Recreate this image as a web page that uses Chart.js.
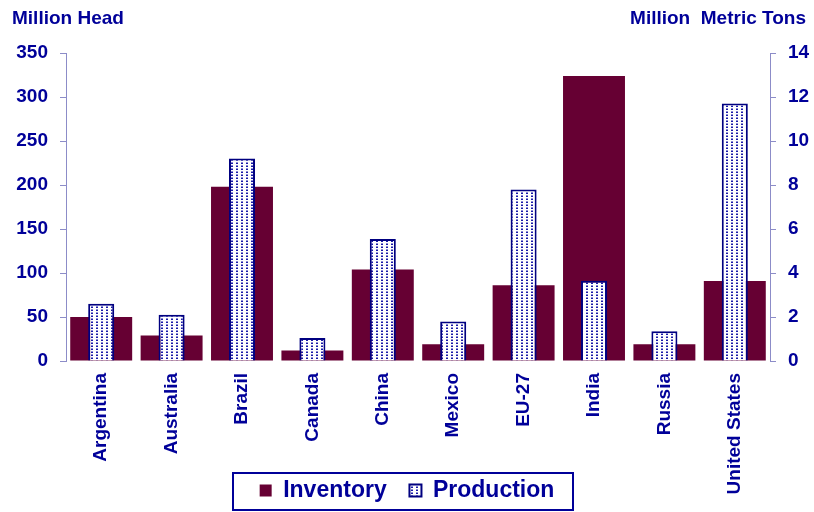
<!DOCTYPE html>
<html>
<head>
<meta charset="utf-8">
<script src="https://cdn.jsdelivr.net/npm/chart.js@4/dist/chart.umd.min.js"></script>
<style>
  html, body { margin: 0; padding: 0; background: #fff; }
  #wrap { width: 814px; height: 512px; }
</style>
</head>
<body>
<div id="wrap"><canvas id="chart" width="814" height="512"></canvas></div>
<script>
const countries = ['Argentina', 'Australia', 'Brazil', 'Canada', 'China', 'Mexico', 'EU-27', 'India', 'Russia', 'United States'];
const inventory = [50, 29, 198, 12, 104, 19, 86, 324, 19, 91];     // million head
const production = [2.6, 2.1, 9.2, 1.05, 5.55, 1.8, 7.8, 3.65, 1.35, 11.7]; // million metric tons
const leftTicks = [0, 50, 100, 150, 200, 250, 300, 350];
const rightTicks = [0, 2, 4, 6, 8, 10, 12, 14];

const navy = '#000099';
const maroon = '#660033';
const axisColor = '#8c8cc8';
const font = 'Liberation Sans, Arial, sans-serif';

// petit motif pointillé pour la production
function dotPattern() {
    const c = document.createElement('canvas');
    c.width = 5; c.height = 3;
    const g = c.getContext('2d');
    g.fillStyle = '#ffffff';
    g.fillRect(0, 0, 5, 3);
    g.fillStyle = '#1a1aa8';
    g.fillRect(1, 1, 2, 1);
    g.fillStyle = '#8c8cd4';
    g.fillRect(1, 0, 2, 1);
    return document.getElementById('chart').getContext('2d').createPattern(c, 'repeat');
}
const pattern = dotPattern();

// titres des axes, cadre de la légende, zone des étiquettes x
const extras = {
    id: 'extras',
    afterLayout(chart) {
        // les étiquettes verticales descendent jusqu'en bas du canvas
        chart.scales.x.bottom = chart.height;
    },
    afterDraw(chart) {
        const ctx = chart.ctx;
        ctx.save();
        ctx.fillStyle = navy;
        ctx.font = 'bold 19px ' + font;
        ctx.textBaseline = 'alphabetic';
        ctx.textAlign = 'left';
        ctx.fillText('Million Head', 12, 24);
        ctx.textAlign = 'right';
        ctx.fillText('Million  Metric Tons', 806, 24);

        const boxes = chart.legend.legendHitBoxes;
        if (boxes && boxes.length) {
            let l = Infinity, r = -Infinity, t = Infinity, b = -Infinity;
            boxes.forEach(h => {
                l = Math.min(l, h.left); r = Math.max(r, h.left + h.width);
                t = Math.min(t, h.top); b = Math.max(b, h.top + h.height);
            });
            ctx.strokeStyle = navy;
            ctx.lineWidth = 2;
            ctx.strokeRect(Math.round(l) - 27, Math.round(t) - 6, Math.round(r - l) + 45, Math.round(b - t) + 14);
        }
        ctx.restore();
    }
};

new Chart(document.getElementById('chart'), {
    type: 'bar',
    data: {
        labels: countries,
        datasets: [
            {
                label: 'Inventory',
                data: inventory,
                yAxisID: 'y',
                backgroundColor: maroon,
                borderWidth: 0,
                grouped: false,
                order: 1,
                categoryPercentage: 0.88,
                barPercentage: 1.0
            },
            {
                label: 'Production',
                data: production,
                yAxisID: 'y1',
                backgroundColor: pattern,
                borderColor: '#000080',
                borderWidth: 2,
                grouped: false,
                order: 0,
                categoryPercentage: 1.0,
                barPercentage: 0.37
            }
        ]
    },
    plugins: [extras],
    options: {
        responsive: false,
        animation: false,
        layout: { padding: { top: 53, left: 0, right: 0, bottom: 0 } },
        plugins: {
            tooltip: { enabled: false },
            legend: {
                position: 'bottom',
                labels: {
                    color: navy,
                    font: { family: font, size: 23, weight: 'bold' },
                    boxWidth: 12,
                    boxHeight: 12,
                    padding: 10,
                    sort: (a, b) => a.datasetIndex - b.datasetIndex,
                    generateLabels: chart => {
                        const items = Chart.defaults.plugins.legend.labels.generateLabels(chart);
                        items.forEach(it => { if (it.datasetIndex === 0) it.text += '  '; });
                        return items;
                    }
                }
            }
        },
        scales: {
            x: {
                grid: { display: false },
                border: { display: false },
                ticks: {
                    color: navy,
                    font: { family: font, size: 19, weight: 'bold' },
                    minRotation: 90,
                    maxRotation: 90,
                    autoSkip: false,
                    padding: 4
                },
                afterFit: s => { s.height = 108; }
            },
            y: {
                position: 'left',
                min: 0,
                max: 350,
                afterBuildTicks: s => { s.ticks = leftTicks.map(v => ({ value: v })); },
                grid: { drawOnChartArea: false, color: axisColor, tickLength: 6 },
                border: { color: axisColor, width: 1 },
                ticks: {
                    color: navy,
                    font: { family: font, size: 19, weight: 'bold' },
                    padding: 12
                },
                afterFit: s => { s.width = 66; }
            },
            y1: {
                position: 'right',
                min: 0,
                max: 14,
                afterBuildTicks: s => { s.ticks = rightTicks.map(v => ({ value: v })); },
                grid: { drawOnChartArea: false, color: axisColor, tickLength: 6 },
                border: { color: axisColor, width: 1 },
                ticks: {
                    color: navy,
                    font: { family: font, size: 19, weight: 'bold' },
                    padding: 12
                },
                afterFit: s => { s.width = 44; }
            }
        }
    }
});
</script>
</body>
</html>
